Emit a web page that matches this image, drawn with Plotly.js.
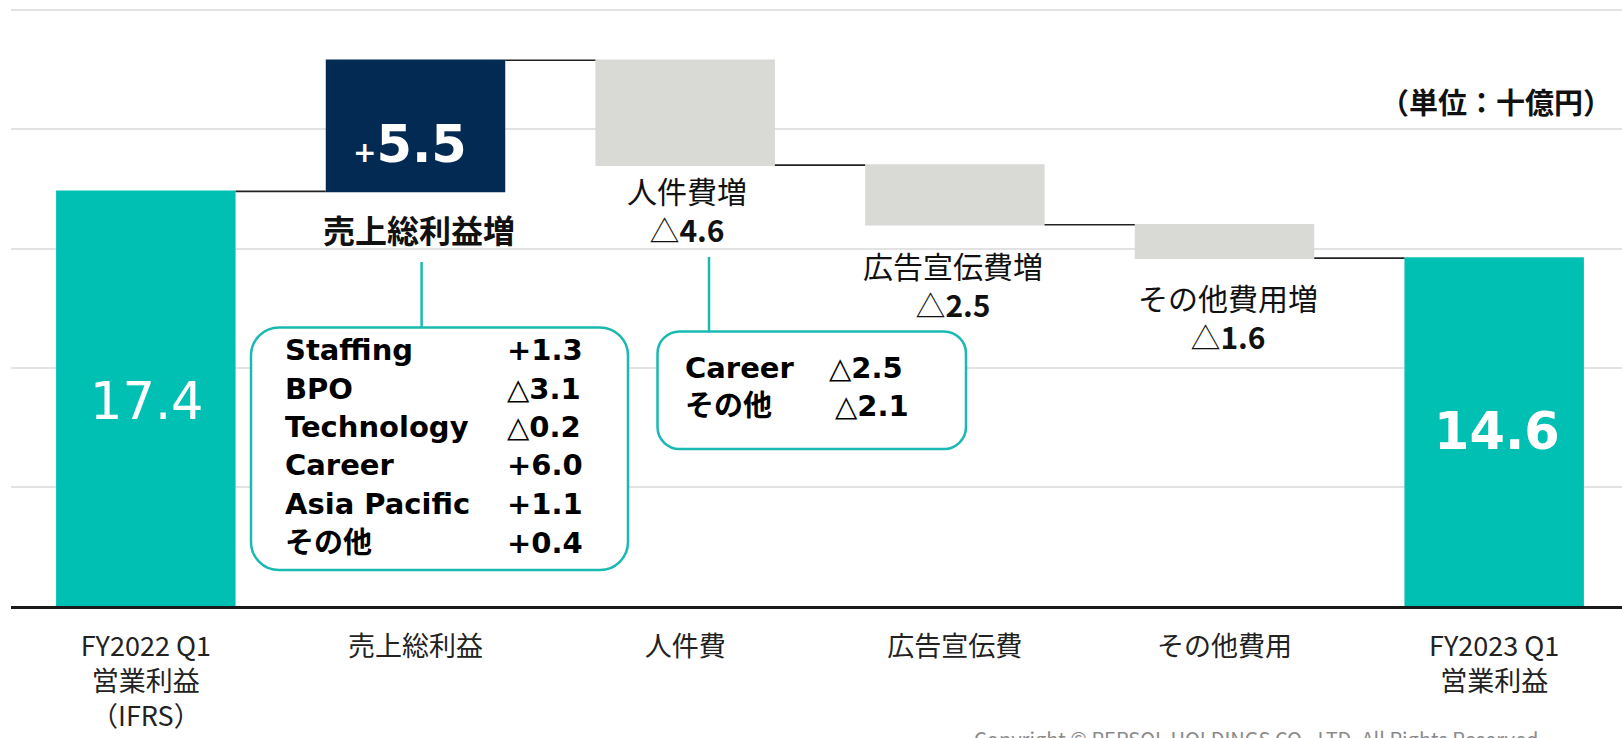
<!DOCTYPE html>
<html>
<head>
<meta charset="utf-8">
<script src="https://cdn.plot.ly/plotly-3.0.1.min.js"></script>
<style>
  html, body { margin: 0; padding: 0; background: #fff; }
  #chart { width: 1622px; height: 738px; }
</style>
</head>
<body>
<div id="chart"></div>
<script>
// categories and bar values (単位：十億円)
var categories = ['FY2022 Q1<br>営業利益<br>（IFRS）', '売上総利益', '人件費', '広告宣伝費', 'その他費用', 'FY2023 Q1<br>営業利益'];
var measures = ['absolute', 'relative', 'relative', 'relative', 'relative', 'total'];
var barValues = [17.4, 5.5, -4.4, -2.5, -1.4, 0];
var totalLabels = ['17.4', '14.6'];

// step labels shown next to the bars
var stepNames = ['売上総利益増', '人件費増', '広告宣伝費増', 'その他費用増'];
var stepValues = ['5.5', '4.6', '2.5', '1.6'];

// breakdown boxes
var gpSegments = ['Staffing', 'BPO', 'Technology', 'Career', 'Asia Pacific', 'その他'];
var gpValues = ['+1.3', '△3.1', '△0.2', '+6.0', '+1.1', '+0.4'];
var hrSegments = ['Career', 'その他'];
var hrValues = ['△2.5', '△2.1'];

var TEAL = '#00bfb3';
var NAVY = '#032a52';
var GREY = '#d9d9d6';
var BOX = '#1ab9b1';

// plot area in pixels
var W = 1622, H = 738;
var L = 11, T = 0, B = 132;
var PW = W - L, PH = H - T - B;

function px(x) { return (x - L) / PW; }
function py(y) { return (T + PH - y) / PH; }

function roundRect(x0, y0, x1, y1, r) {
    // rounded rectangle as a path in paper coordinates
    var k = r * 0.55;
    function p(x, y) { return px(x) + ',' + py(y); }
    return 'M' + p(x0 + r, y0) +
        ' L' + p(x1 - r, y0) +
        ' C' + p(x1 - r + k, y0) + ' ' + p(x1, y0 + r - k) + ' ' + p(x1, y0 + r) +
        ' L' + p(x1, y1 - r) +
        ' C' + p(x1, y1 - r + k) + ' ' + p(x1 - r + k, y1) + ' ' + p(x1 - r, y1) +
        ' L' + p(x0 + r, y1) +
        ' C' + p(x0 + r - k, y1) + ' ' + p(x0, y1 - r + k) + ' ' + p(x0, y1 - r) +
        ' L' + p(x0, y0 + r) +
        ' C' + p(x0, y0 + r - k) + ' ' + p(x0 + r - k, y0) + ' ' + p(x0 + r, y0) + ' Z';
}

function note(text, x, y, opts) {
    var a = {
        text: text, xref: 'paper', yref: 'paper', x: px(x), y: py(y),
        showarrow: false, xanchor: 'center', yanchor: 'middle',
        font: {family: 'Noto Sans CJK JP', size: 32, color: '#111'}
    };
    for (var k in opts) { a[k] = opts[k]; }
    return a;
}

var trace = {
    type: 'waterfall',
    x: categories,
    y: barValues,
    measure: measures,
    connector: {mode: 'between', line: {color: '#222', width: 1.6}},
    increasing: {marker: {color: NAVY}},
    decreasing: {marker: {color: GREY}},
    totals: {marker: {color: TEAL}},
    textinfo: 'none',
    hoverinfo: 'skip'
};

var annotations = [];

// values inside the total bars
annotations.push(note(totalLabels[0], 147, 402, {font: {family: 'DejaVu Sans', size: 51, color: '#fff'}}));
annotations.push(note('<b>' + totalLabels[1] + '</b>', 1497, 431, {font: {family: 'DejaVu Sans', size: 51, color: '#fff'}}));
annotations.push(note('<b><span style="font-size:28px">+</span>' + stepValues[0] + '</b>', 410, 144,
    {font: {family: 'DejaVu Sans', size: 51, color: '#fff'}}));

// step names and amounts
annotations.push(note('<b>' + stepNames[0] + '</b>', 419, 229));
var stepPos = [[687, 209], [953, 284], [1228, 316]];
for (var i = 1; i < stepNames.length; i++) {
    annotations.push(note(stepNames[i] + '<br>△<b>' + stepValues[i] + '</b>', stepPos[i - 1][0], stepPos[i - 1][1],
        {font: {family: 'Noto Sans CJK JP', size: 30, color: '#111'}}));
}

// breakdown box texts
var boxFont = {family: 'DejaVu Sans, Noto Sans CJK JP', size: 29, color: '#000'};
for (var i = 0; i < gpSegments.length; i++) {
    var yy = 350 + i * 38.5;
    annotations.push(note('<b>' + gpSegments[i] + '</b>', 283, yy, {xanchor: 'left', font: boxFont}));
    var v = gpValues[i].charAt(0) === '△' ? '△<b>' + gpValues[i].slice(1) + '</b>' : '<b>' + gpValues[i] + '</b>';
    annotations.push(note(v, 505, yy, {xanchor: 'left', font: boxFont}));
}
for (var i = 0; i < hrSegments.length; i++) {
    var yy = 368 + i * 37.5;
    annotations.push(note('<b>' + hrSegments[i] + '</b>', 683, yy, {xanchor: 'left', font: boxFont}));
    annotations.push(note('△<b>' + hrValues[i].slice(1) + '</b>', 827 + i * 6, yy, {xanchor: 'left', font: boxFont}));
}

// unit and footer
annotations.push(note('<b>（単位：十億円）</b>', 1614, 101, {xanchor: 'right', font: {family: 'Noto Sans CJK JP', size: 29, color: '#111'}}));
annotations.push(note('Copyright © PERSOL HOLDINGS CO., LTD. All Rights Reserved.', 972, 738,
    {xanchor: 'left', font: {family: 'Noto Sans CJK JP', size: 20, color: '#8a8a8a'}}));

var shapes = [
    {type: 'line', xref: 'paper', yref: 'paper', x0: px(421.6), x1: px(421.6), y0: py(262), y1: py(327),
        line: {color: BOX, width: 2.5}},
    {type: 'line', xref: 'paper', yref: 'paper', x0: px(709), x1: px(709), y0: py(257), y1: py(332),
        line: {color: BOX, width: 2.5}},
    {type: 'path', xref: 'paper', yref: 'paper', path: roundRect(251, 327.5, 628, 570, 28),
        fillcolor: '#fff', line: {color: BOX, width: 2.5}},
    {type: 'path', xref: 'paper', yref: 'paper', path: roundRect(657.5, 331.5, 966, 449, 22),
        fillcolor: '#fff', line: {color: BOX, width: 2.5}}
];

var layout = {
    width: W,
    height: H,
    margin: {l: L, r: 0, t: T, b: B},
    paper_bgcolor: '#fff',
    plot_bgcolor: '#fff',
    showlegend: false,
    waterfallgap: 0.3345,
    font: {family: 'Noto Sans CJK JP', color: '#222'},
    xaxis: {
        type: 'category',
        range: [-0.5, 5.474],
        showgrid: false,
        showline: true,
        linecolor: '#1a1a1a',
        linewidth: 2.5,
        ticks: '',
        tickfont: {family: 'Noto Sans CJK JP', size: 27, color: '#222'},
        ticklabelstandoff: 15,
        automargin: false,
        fixedrange: true
    },
    yaxis: {
        range: [0, PH / 23.83],
        tickvals: [5, 10, 15, 20, 25],
        showticklabels: false,
        showgrid: true,
        gridcolor: '#e2e2e2',
        gridwidth: 2,
        zeroline: false,
        automargin: false,
        fixedrange: true
    },
    annotations: annotations,
    shapes: shapes
};

Plotly.newPlot('chart', [trace], layout, {staticPlot: true, displayModeBar: false});
</script>
</body>
</html>
